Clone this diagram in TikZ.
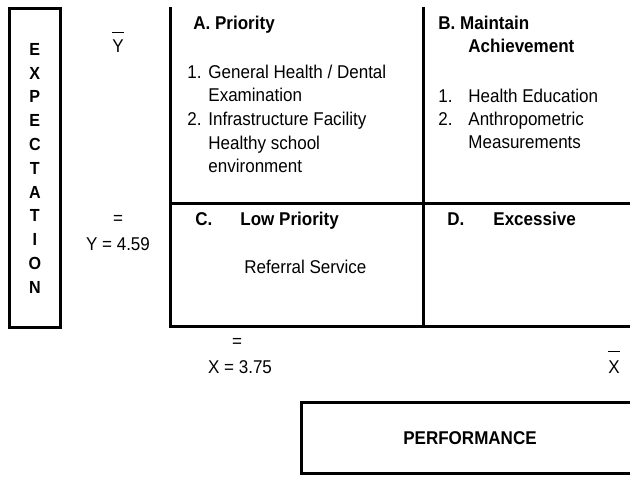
\documentclass[tikz,border=0pt]{standalone}
\usepackage{fontspec}
\setmainfont{Liberation Sans}[FakeStretch=0.92]
\usepackage{tikz}

\begin{document}
\begin{tikzpicture}[x=0.5pt, y=-0.5pt,
  every node/.style={inner sep=0pt, font=\fontsize{9.25}{11.75}\selectfont},
  txt/.style={anchor=base west},
  head/.style={txt, font=\fontsize{9.25}{11.75}\selectfont\bfseries},
  mean/.style={anchor=base},
  frame/.style={line width=1.5pt}]
\useasboundingbox (0,0) rectangle (630,476);

% axis boxes
\node[draw, frame, minimum width=25.15pt, minimum height=159.5pt, align=center,
  font=\fontsize{8.75}{11.9}\selectfont\bfseries] (expectation) at (34.85,168.2)
  {E\\X\\P\\E\\C\\T\\A\\T\\I\\O\\N};
\node[draw, frame, minimum width=169pt, minimum height=35.65pt,
  font=\fontsize{9.25}{11.75}\selectfont\bfseries] (performance) at (470,437.65)
  {PERFORMANCE};

% quadrant grid
\draw[frame] (170,7) -- (170,326.5) -- (640,326.5);
\draw[frame] (423.3,7) -- (423.3,326.5);
\draw[frame] (170,203.5) -- (640,203.5);

% means
\node[mean] (ybar) at (118,53) {$\overline{\mbox{Y}\rule{0pt}{8.8pt}}$};
\node[mean] (yeq) at (118,224) {=};
\node[mean] (yval) at (118,250) {Y = 4.59};
\node[mean] (xeq) at (237,347.5) {=};
\node[mean] (xval) at (240,373) {X = 3.75};
\node[mean] (xbar) at (614,373) {$\overline{\mbox{X}\rule{0pt}{9.3pt}}$};

% A. priority
\node[head] (priohead) at (193,30) {A. Priority};
\node[txt] (prio1num) at (187,78) {1.};
\node[txt] (prio1a) at (208,78) {General Health / Dental};
\node[txt] (prio1b) at (208,101.5) {Examination};
\node[txt] (prio2num) at (187,125) {2.};
\node[txt] (prio2a) at (208,125) {Infrastructure Facility};
\node[txt] (prio2b) at (208,149) {Healthy school};
\node[txt] (prio2c) at (208,172.5) {environment};

% B. maintain achievement
\node[head] (mainhead) at (438,30) {B. Maintain};
\node[head] (mainheadb) at (468,53) {Achievement};
\node[txt] (main1num) at (438,102) {1.};
\node[txt] (main1) at (468,102) {Health Education};
\node[txt] (main2num) at (438,125) {2.};
\node[txt] (main2a) at (468,125) {Anthropometric};
\node[txt] (main2b) at (468,148.5) {Measurements};

% C. low priority
\node[head] (lowletter) at (195,225) {C.};
\node[head] (lowhead) at (240,225) {Low Priority};
\node[txt] (low1) at (244,273) {Referral Service};

% D. excessive
\node[head] (excletter) at (447,225) {D.};
\node[head] (exchead) at (493,225) {Excessive};
\end{tikzpicture}
\end{document}
